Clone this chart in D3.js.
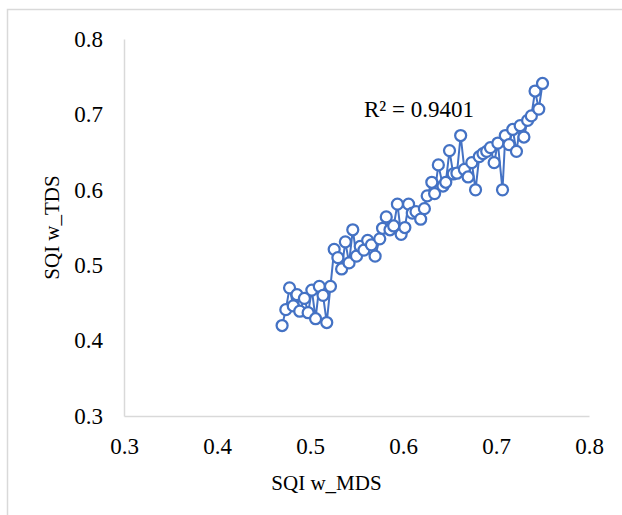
<!DOCTYPE html>
<html>
<head>
<meta charset="utf-8">
<script src="https://cdn.jsdelivr.net/npm/d3@7"></script>
<style>
  body { margin: 0; background: #fff; }
  svg { display: block; }
</style>
</head>
<body>
<div id="chart"></div>
<script>
// SQI w_MDS (x) values
const mds = [
  0.470, 0.474, 0.478, 0.482, 0.486, 0.489, 0.494, 0.498, 0.502, 0.506,
  0.510, 0.514, 0.518, 0.522, 0.526, 0.530, 0.534, 0.538, 0.542, 0.546,
  0.550, 0.554, 0.558, 0.562, 0.566, 0.570, 0.575, 0.578, 0.582, 0.586,
  0.590, 0.594, 0.598, 0.602, 0.606, 0.610, 0.614, 0.619, 0.623, 0.626,
  0.631, 0.634, 0.638, 0.643, 0.646, 0.650, 0.654, 0.658, 0.662, 0.666,
  0.670, 0.674, 0.678, 0.682, 0.686, 0.690, 0.694, 0.698, 0.702, 0.707,
  0.710, 0.714, 0.718, 0.722, 0.726, 0.730, 0.734, 0.738, 0.742, 0.746,
  0.750
];
// SQI w_TDS (y) values
const tds = [
  0.420, 0.441, 0.470, 0.446, 0.461, 0.439, 0.456, 0.437, 0.467, 0.429,
  0.472, 0.460, 0.424, 0.472, 0.521, 0.510, 0.495, 0.531, 0.503, 0.547,
  0.512, 0.525, 0.520, 0.533, 0.527, 0.512, 0.535, 0.549, 0.564, 0.547,
  0.552, 0.581, 0.541, 0.550, 0.581, 0.569, 0.571, 0.561, 0.575, 0.592,
  0.610, 0.595, 0.633, 0.605, 0.610, 0.652, 0.621, 0.622, 0.672, 0.627,
  0.617, 0.636, 0.600, 0.644, 0.648, 0.651, 0.656, 0.636, 0.662, 0.600,
  0.672, 0.660, 0.680, 0.651, 0.685, 0.670, 0.692, 0.698, 0.731, 0.707,
  0.741
];
const ticks = [0.3, 0.4, 0.5, 0.6, 0.7, 0.8];
const r2Label = "R² = 0.9401";

const W = 622, H = 515;
const plot = { left: 124, right: 589, top: 39, bottom: 416 };
const font = "'Liberation Serif', 'Times New Roman', serif";
const blue = "#4472C4";

const svg = d3.select("#chart").append("svg")
    .attr("width", W)
    .attr("height", H);

// chart area border (only top and left edges fall inside the picture)
svg.append("rect")
    .attr("x", 7.5).attr("y", 9.5)
    .attr("width", 700).attr("height", 600)
    .attr("fill", "#fff")
    .attr("stroke", "#d9d9d9")
    .attr("stroke-width", 1.5);

const x = d3.scaleLinear().domain([0.3, 0.8]).range([plot.left, plot.right]);
const y = d3.scaleLinear().domain([0.3, 0.8]).range([plot.bottom, plot.top]);

// X axis
const xAxis = svg.append("g")
    .attr("transform", `translate(0,${plot.bottom})`)
    .call(d3.axisBottom(x).tickValues(ticks).tickSize(0).tickPadding(22).tickFormat(d3.format(".1f")));
xAxis.select(".domain").attr("stroke", "#d9d9d9").attr("stroke-width", 1.5);
xAxis.selectAll("text")
    .style("font-family", font).style("font-size", "23px").attr("fill", "#000");

// Y axis
const yAxis = svg.append("g")
    .attr("transform", `translate(${plot.left},0)`)
    .call(d3.axisLeft(y).tickValues(ticks).tickSize(0).tickPadding(21).tickFormat(d3.format(".1f")));
yAxis.select(".domain").attr("stroke", "#d9d9d9").attr("stroke-width", 1.5);
yAxis.selectAll("text")
    .style("font-family", font).style("font-size", "23px").attr("fill", "#000");

// Axis titles
svg.append("text")
    .attr("x", (plot.left + plot.right) / 2 - 30)
    .attr("y", 490)
    .attr("text-anchor", "middle")
    .style("font-family", font).style("font-size", "21px")
    .text("SQI w_MDS");

svg.append("text")
    .attr("transform", `translate(59,${(plot.top + plot.bottom) / 2}) rotate(-90)`)
    .attr("text-anchor", "middle")
    .style("font-family", font).style("font-size", "21px")
    .text("SQI w_TDS");

// Series: straight lines with markers
const points = mds.map((v, i) => ({ x: v, y: tds[i] }));

const line = d3.line()
    .x(d => x(d.x))
    .y(d => y(d.y));

svg.append("path")
    .datum(points)
    .attr("fill", "none")
    .attr("stroke", blue)
    .attr("stroke-width", 2)
    .attr("stroke-linejoin", "round")
    .attr("d", line);

svg.selectAll("circle.pt")
    .data(points)
    .enter()
    .append("circle")
    .attr("class", "pt")
    .attr("cx", d => x(d.x))
    .attr("cy", d => y(d.y))
    .attr("r", 5.5)
    .attr("fill", "#fff")
    .attr("stroke", blue)
    .attr("stroke-width", 2.25);

// R² label
svg.append("text")
    .attr("x", 364)
    .attr("y", 117)
    .style("font-family", font).style("font-size", "23px")
    .text(r2Label);
</script>
</body>
</html>
